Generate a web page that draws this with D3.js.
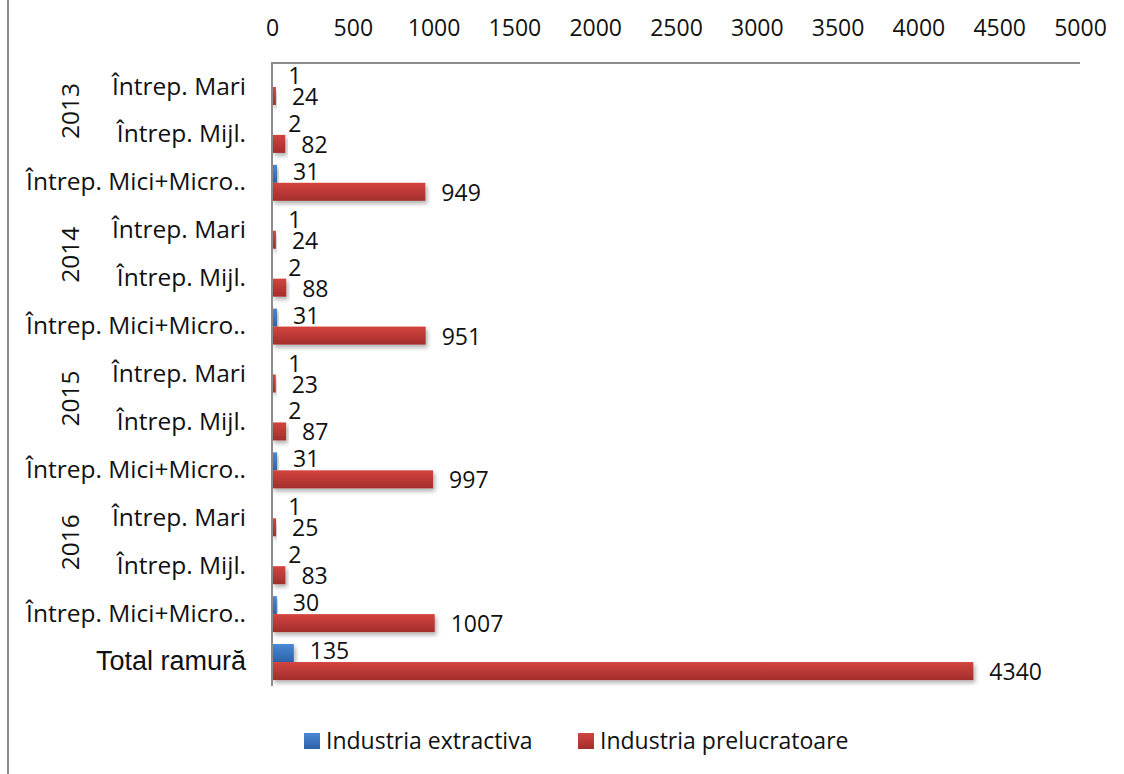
<!DOCTYPE html>
<html><head><meta charset="utf-8">
<script src="https://cdn.jsdelivr.net/npm/d3@7"></script>
<style>
html,body{margin:0;padding:0;background:#fff;}
svg{display:block;}
text{font-family:"Open Sans",sans-serif;fill:#111;}
</style></head>
<body>
<svg id="chart" width="1124" height="774"></svg>
<script>
const years = ["2013","2014","2015","2016"];
const categories = [
  "Întrep. Mari","Întrep. Mijl.","Întrep. Mici+Micro..",
  "Întrep. Mari","Întrep. Mijl.","Întrep. Mici+Micro..",
  "Întrep. Mari","Întrep. Mijl.","Întrep. Mici+Micro..",
  "Întrep. Mari","Întrep. Mijl.","Întrep. Mici+Micro..",
  "Total ramură"
];
const extractiva = [1,2,31, 1,2,31, 1,2,31, 1,2,30, 135];
const prelucratoare = [24,82,949, 24,88,951, 23,87,997, 25,83,1007, 4340];
const seriesNames = ["Industria extractiva","Industria prelucratoare"];
const xTicks = [0,500,1000,1500,2000,2500,3000,3500,4000,4500,5000];

(function(){
const svg = d3.select("#chart");
const W = 1124, H = 774;
const pL = 272, pR = 1080, pT = 63, pB = 686;
const numFs = "23px";

const defs = svg.append("defs");
function grad(id, c1, c2){
  const g = defs.append("linearGradient").attr("id", id).attr("x1",0).attr("y1",0).attr("x2",0).attr("y2",1);
  g.append("stop").attr("offset","0%").attr("stop-color",c1);
  g.append("stop").attr("offset","100%").attr("stop-color",c2);
}
grad("gBlue", "#4a88d6", "#2e62a6");
grad("gRed", "#d4433f", "#a22e2b");
const f = defs.append("filter").attr("id","shadow").attr("x","-10%").attr("y","-50%").attr("width","130%").attr("height","250%");
f.append("feDropShadow").attr("dx",2).attr("dy",3).attr("stdDeviation",2).attr("flood-color","#000").attr("flood-opacity",0.3);

svg.append("line").attr("x1",8).attr("x2",8).attr("y1",0).attr("y2",H)
  .attr("stroke","#8c8c8c").attr("stroke-width",2);

const x = d3.scaleLinear().domain([0,5000]).range([pL,pR]);
const idx = d3.range(categories.length);
const y = d3.scaleBand().domain(idx).range([pT,pB]).padding(0);
const barH = 18;

const xAxis = d3.axisTop(x).tickValues(xTicks).tickSize(0).tickPadding(0).tickFormat(d3.format("d"));
const gx = svg.append("g").attr("transform",`translate(0,${pT})`).call(xAxis);
gx.select(".domain").remove();
gx.selectAll("text").attr("y", 28 - pT).attr("dy","0.35em")
  .style("font-size",numFs).style("font-family","'Open Sans',sans-serif").attr("fill","#111");

svg.append("line").attr("x1",pL).attr("x2",pR).attr("y1",pT).attr("y2",pT)
  .attr("stroke","#8c8c8c").attr("stroke-width",2);

const rows = idx.map(i => ({i, e: extractiva[i], p: prelucratoare[i]}));
const g = svg.append("g");
g.selectAll("rect.e").data(rows).join("rect").attr("class","e")
  .attr("x", x(0)).attr("width", d => x(d.e) - x(0))
  .attr("y", d => y(d.i) + y.bandwidth()/2 - barH).attr("height", barH)
  .attr("fill","url(#gBlue)").attr("filter","url(#shadow)");
g.selectAll("rect.p").data(rows).join("rect").attr("class","p")
  .attr("x", x(0)).attr("width", d => x(d.p) - x(0))
  .attr("y", d => y(d.i) + y.bandwidth()/2).attr("height", barH)
  .attr("fill","url(#gRed)").attr("filter","url(#shadow)");

svg.append("line").attr("x1",pL).attr("x2",pL).attr("y1",pT-1).attr("y2",pB)
  .attr("stroke","#8c8c8c").attr("stroke-width",2);

g.selectAll("text.le").data(rows).join("text").attr("class","le")
  .attr("x", d => x(d.e) + 16).attr("y", d => y(d.i) + y.bandwidth()/2 - barH/2 - 2)
  .attr("dy","0.35em").style("font-size",numFs).text(d => d.e);
g.selectAll("text.lp").data(rows).join("text").attr("class","lp")
  .attr("x", d => x(d.p) + 16).attr("y", d => y(d.i) + y.bandwidth()/2 + barH/2 + 1)
  .attr("dy","0.35em").style("font-size",numFs).text(d => d.p);

svg.selectAll("text.cat").data(rows).join("text").attr("class","cat")
  .attr("x", 246).attr("y", d => y(d.i) + y.bandwidth()/2 - 1)
  .attr("dy","0.35em").attr("text-anchor","end")
  .style("font-size", d => d.i === categories.length-1 ? "27px" : "24.5px")
  .style("font-family", d => d.i === categories.length-1 ? "'Liberation Sans',Arial,sans-serif" : "'Open Sans',sans-serif")
  .text(d => categories[d.i]);

svg.selectAll("text.yr").data(years).join("text").attr("class","yr")
  .attr("transform", (d,k) => {
    const cy = (y(k*3) + y(k*3+1))/2 + y.bandwidth()/2;
    return `translate(70,${cy}) rotate(-90)`;
  })
  .attr("text-anchor","middle").attr("dy","0.35em").style("font-size","24.5px").text(d => d);

const colors = ["url(#gBlue)","url(#gRed)"];
const legX = [304, 578];
const lg = svg.append("g");
seriesNames.forEach((n,k) => {
  lg.append("rect").attr("x",legX[k]).attr("y",733).attr("width",16).attr("height",16).attr("fill",colors[k]);
  lg.append("text").attr("x",legX[k]+22).attr("y",741).attr("dy","0.35em").style("font-size",numFs).text(n);
});
})();
</script>
</body></html>
